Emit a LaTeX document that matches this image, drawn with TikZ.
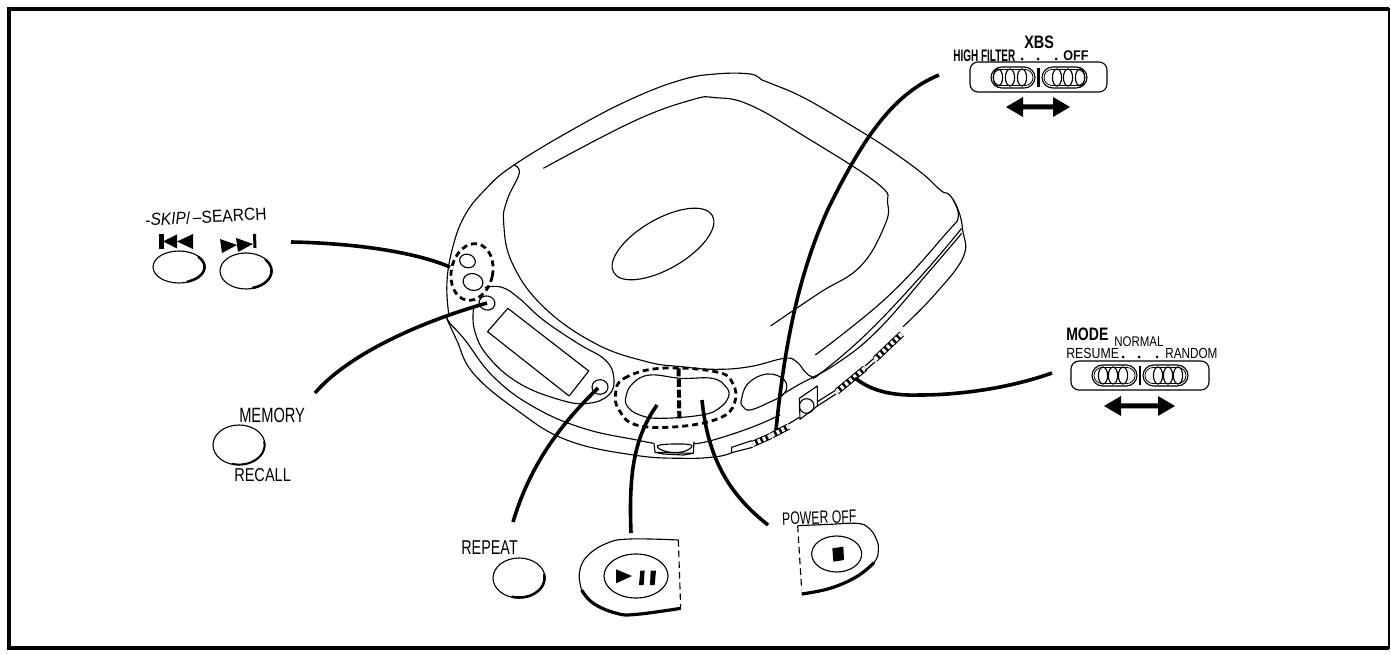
\documentclass[tikz,border=0pt]{standalone}
\usepackage{fontspec}
\setmainfont{Liberation Sans}
\usetikzlibrary{shapes.geometric}
\newcommand\lab[3]{\scalebox{#2}[1]{\fontsize{#1}{#1}\selectfont #3}}
\newcommand\ethick[6]{\draw[line width=#6,line cap=round,domain=#4,variable=\t,samples=30,smooth] plot ({#1+#3*cos(\t)},{#2+#5*sin(\t)});}
\newcommand\dblarrow[3]{\fill (#1,#3) -- (#1+17,#3-10) -- (#1+17,#3-2.5) -- (#2-17,#3-2.5) -- (#2-17,#3-10) -- (#2,#3) -- (#2-17,#3+10) -- (#2-17,#3+2.5) -- (#1+17,#3+2.5) -- (#1+17,#3+10) -- cycle;}
\newcommand\ovals[4]{\foreach \ex in {#1,#2,#3}{\draw[thin2] (\ex,#4) ellipse [x radius=4.6,y radius=8.5];}}
\newcommand\band[4]{%
  \draw[line width=4.8pt,line cap=butt] (#1,#2) -- (#3,#4);
  \draw[line width=3.2pt,white,dash pattern=on 2.2pt off 2pt] (#1,#2) -- (#3,#4);}
\tikzset{
  thin2/.style={line width=0.85pt},
  hair/.style={line width=0.6pt},
  leader/.style={line width=2.7pt,line cap=butt},
  dashring/.style={line width=2.1pt,dash pattern=on 4.5pt off 3pt},
  btn/.style={draw,ellipse,inner sep=0pt,line width=0.85pt},
  dot/.style={draw,ellipse,inner sep=0pt,line width=0.85pt},
  lbl/.style={inner sep=0pt,anchor=west},
  smoothp/.style={smooth,tension=0.7}
}
\begin{document}
\begin{tikzpicture}[x=0.75pt,y=-0.75pt,line join=round]
\useasboundingbox (0,0) rectangle (1391,655);
\fill[white] (0,0) rectangle (1391,655);
% frame
\draw[line width=3pt] (7,9) -- (1389,9);
\draw[line width=3.4pt] (9,8) -- (9,648);
\draw[line width=3pt] (7,648) -- (1389,648);
\draw[line width=1.6pt] (1389,8) -- (1389,649);

% ---- player body, coordinates of a 2.904x/3y view
\begin{scope}[shift={(440,50)},x=0.25826pt,y=-0.25pt]
 \draw[thin2] plot[smoothp] coordinates {(25,790)(20,700)(35,600)(70,500)(130,420)(215,345)(400,230)(560,145)(700,90)(800,72)(900,72)(935,90)(960,100)(1060,145)(1200,230)(1300,295)(1400,370)(1455,422)(1480,435)(1505,480)(1518,540)(1520,620)(1440,730)(1345,830)};
 % disc lid / top face
 \draw[thin2] plot[smoothp] coordinates {(215,345)(230,370)(195,450)(185,520)(210,640)(300,770)(450,880)(600,935)(700,950)(800,958)(900,950)(1000,925)(1035,935)(1060,965)(1080,980)(1105,970)(1240,850)(1400,675)(1515,535)};
 \draw[thin2] plot[smoothp] coordinates {(1490,450)(1505,500)(1470,550)(1300,740)(1090,915)};
 \draw[thin2] plot[smoothp] coordinates {(1515,550)(1420,665)(1272,840)(1153,940)(1040,1005)(985,1040)};
 % door
 \draw[thin2] plot[smoothp] coordinates {(300,355)(560,215)(730,150)(800,143)(900,165)(1060,260)(1270,400)(1300,460)(1290,530)(1220,650)(1100,730)(960,828)};
 % display band
 \draw[thin2] plot[smoothp] coordinates {(130,712)(180,712)(230,745)(300,810)(400,880)(480,930)(505,985)(490,1035)(430,1060)(350,1050)(230,1000)(140,920)(100,840)(98,770)};
 \draw[thin2] (197,775) -- (432,963) -- (375,1038) -- (138,845) -- cycle;
 % play/stop pill
 \draw[thin2] plot[smooth cycle,tension=0.7] coordinates {(540,1040)(560,1000)(610,975)(700,985)(790,985)(830,1010)(838,1040)(810,1075)(760,1095)(640,1105)(580,1095)(545,1070)};
 \draw[dashring] plot[smooth cycle,tension=0.7] coordinates {(510,1030)(535,985)(640,955)(800,965)(850,1000)(855,1060)(810,1105)(690,1130)(570,1125)(520,1080)};
 \draw[line width=3pt,dash pattern=on 6pt off 2pt] (693,955) -- (695,1105);
 % right oval
 \draw[thin2] plot[smooth cycle,tension=0.7] coordinates {(875,1050)(895,1000)(950,972)(1000,990)(1000,1030)(950,1060)(900,1080)(880,1070)};
\end{scope}
\node[dot,minimum width=85.5pt,minimum height=37.5pt,rotate=30] (hole) at (663,244) {};

% lower shell, zoom view coordinates
\begin{scope}[shift={(450,340)},x=0.25pt,y=-0.25pt]
 \draw[thin2] plot[smoothp] coordinates {(-10,-65)(20,0)(70,100)(200,210)(350,300)(550,345)(700,355)(800,350)(845,338)};
 \draw[thin2] plot[smoothp] coordinates {(-10,-70)(0,-50)(45,0)(130,110)(250,200)(400,265)(560,300)(612,310)};
 \draw[thin2] plot[smoothp] coordinates {(730,312)(790,300)(905,262)(990,225)};
 % wheel notch
 \draw[thin2] (612,310) -- (615,337) -- (730,340) -- (732,305);
 \draw[thin2] (615,337) -- (640,342) -- (700,345) -- (730,340);
 \draw[thin2] plot[smooth cycle,tension=0.7] coordinates {(622,318)(670,312)(725,316)(700,335)(650,335)};
 % XBS slide
 \draw[thin2] (845,338) -- (845,322) -- (905,302);
 \draw[thin2] (845,338) -- (908,322);
 \band{908}{312}{962}{288}
 \band{965}{286}{1015}{260}
\end{scope}

% side details, in px of the side view
\begin{scope}[shift={(760,330)},x=0.25pt,y=-0.25pt]
 \draw[thin2] (85,282) -- (118,262);
 \draw[thin2] (118,205) -- (172,168) -- (172,228) -- (120,268) -- cycle;
 \node[dot,minimum width=11pt,minimum height=11pt] (jack) at (140,228) {};
 \draw[thin2] (172,215) -- (228,180) (172,228) -- (228,192);
 \band{230}{185}{315}{115}
 \draw[thin2] (315,108) -- (345,82) (315,122) -- (345,96);
 \band{345}{88}{425}{12}
\end{scope}

% buttons on the player
\node[dashring,draw,ellipse,inner sep=0pt,minimum width=31pt,minimum height=43pt,rotate=-12] (skiprg) at (472,272) {};
\node[dot,minimum width=12pt,minimum height=10pt,rotate=-20] (skipa) at (467.5,261) {};
\node[dot,minimum width=15pt,minimum height=12.5pt,rotate=-15] (skipb) at (473,282) {};
\node[dot,minimum width=12pt,minimum height=10.5pt,rotate=-15] (memdot) at (487,303) {};
\node[dot,minimum width=12pt,minimum height=11pt] (repdot) at (600,387) {};

% remote-style button drawings
\node[btn,minimum width=39pt,minimum height=24pt] (bskipl) at (179,267) {};
\ethick{179}{267}{25.5}{-40:70}{15.5}{1.9pt}
\node[btn,minimum width=39pt,minimum height=27pt] (bskipr) at (246,271) {};
\ethick{246}{271}{25.5}{-40:75}{17.5}{1.9pt}
\node[btn,minimum width=39pt,minimum height=30pt] (bmem) at (239,445) {};
\ethick{239}{445}{25.5}{-10:105}{19.5}{1.4pt}
\node[btn,minimum width=39pt,minimum height=30pt] (brep) at (519,578) {};
\ethick{519}{578}{25.5}{-10:105}{19.5}{1.9pt}

% skip icons
\fill (159,234) rectangle (163.5,249);
\fill (163,241.5) -- (177,234.5) -- (177,248.5) -- cycle;
\fill (177,241.5) -- (193,234) -- (193,249) -- cycle;
\fill (220,239) -- (237,245) -- (222,253) -- cycle;
\fill (236,238) -- (253,244) -- (238,252) -- cycle;
\fill (253,234) -- (256,234) -- (256.5,248) -- (253.5,248) -- cycle;

% play and stop shapes
\begin{scope}[shift={(450,340)},x=0.25pt,y=-0.25pt]
 \draw[thin2] plot[smoothp] coordinates {(685,600)(540,597)(470,610)(410,650)(388,700)(395,750)};
 \draw[line width=2.4pt] plot[smoothp] coordinates {(395,750)(430,790)(500,820)(560,823)(692,805)};
 \draw[thin2,dash pattern=on 5pt off 3pt] (685,600) -- (692,805);
 \node[btn,minimum width=48pt,minimum height=33pt] (bplay) at (558,708) {};
 \fill (498,688) -- (546,708) -- (498,730) -- cycle;
 \fill (571,692) -- (584,692) -- (581,735) -- (567,735) -- cycle;
 \fill (602,692) -- (618,692) -- (614,735) -- (600,735) -- cycle;
\end{scope}
\begin{scope}[shift={(770,495)},x=0.25pt,y=-0.25pt]
 \draw[thin2] plot[smoothp] coordinates {(83,92)(180,88)(260,85)(295,98)(318,130)(325,165)(312,203)(260,245)};
 \draw[line width=2.4pt] plot[smoothp] coordinates {(312,203)(260,245)(180,280)(95,297)};
 \draw[thin2,dash pattern=on 5pt off 3pt] (83,92) -- (95,285);
 \node[btn,minimum width=37.5pt,minimum height=27pt] (bstop) at (200,177) {};
 \fill (187,160) -- (220,155) -- (222,195) -- (190,200) -- cycle;
\end{scope}

% leaders
\coordinate (skipfree) at (291,242);
\coordinate (memfree) at (315,393);
\coordinate (repfree) at (513,522);
\coordinate (playfree) at (631,533);
\coordinate (stopfree) at (768,525);
\coordinate (xbsfree) at (939,75);
\coordinate (modefree) at (1052,373);
\coordinate (skipend) at (450,267);
\coordinate (memend) at (487,303);
\coordinate (repend) at (598,388);
\coordinate (playend) at (657,405);
\coordinate (stopend) at (702,400);
\coordinate (xbsend) at (776,430);
\coordinate (modeend) at (855,378);
\draw[leader] (skipfree) .. controls (345,243) and (410,250) .. (skipend);
\draw[leader] (memfree) .. controls (345,358) and (410,325) .. (memend);
\draw[leader] (repfree) .. controls (530,465) and (560,425) .. (repend);
\draw[leader] (playfree) .. controls (629,480) and (632,440) .. (playend);
\draw[leader] (stopfree) .. controls (730,495) and (708,460) .. (stopend);
\draw[leader] (xbsfree) .. controls (890,95) and (860,145) .. (829,207) .. controls (800,270) and (785,340) .. (xbsend);
\draw[leader] (modefree) .. controls (1010,388) and (960,395) .. (920,395) .. controls (890,396) and (870,390) .. (modeend);

% XBS switch
\draw[thin2,rounded corners=6pt] (970,62) rectangle (1107,92);
\draw[thin2,rounded corners=8pt] (991,67) rectangle (1035,88);
\draw[thin2,rounded corners=8pt] (1042,67) rectangle (1087,88);
\draw[hair,rounded corners=6pt] (993,69.5) rectangle (1033,85.5);
\draw[hair,rounded corners=6pt] (1044,69.5) rectangle (1085,85.5);
\ovals{998}{1010}{1022}{77.5}
\ovals{1057}{1068}{1080}{77.5}
\draw[line width=2pt] (1038.5,68) -- (1038.5,87);
\foreach \dx in {1022,1038,1056}{\fill (\dx,59) circle (1.5);}
\dblarrow{1006}{1070}{107}

% MODE switch
\draw[thin2,rounded corners=6pt] (1071,361) rectangle (1209,390);
\draw[thin2,rounded corners=8pt] (1092,365) rectangle (1137,386);
\draw[thin2,rounded corners=8pt] (1143,365) rectangle (1188,386);
\draw[hair,rounded corners=6pt] (1094,367.5) rectangle (1135,383.5);
\draw[hair,rounded corners=6pt] (1145,367.5) rectangle (1186,383.5);
\ovals{1103}{1113}{1123}{375.5}
\ovals{1158}{1168}{1178}{375.5}
\draw[line width=2pt] (1140,366) -- (1140,385);
\foreach \dx in {1123,1139,1157}{\fill (\dx,357) circle (1.5);}
\dblarrow{1104}{1175}{406}

% labels
\node[lbl,rotate=3] (tskip) at (145,220) {\lab{13}{0.9}{-\textit{SKIP}/\,–SEARCH}};
\node[lbl] (tmem) at (239,415) {\lab{15.5}{0.71}{MEMORY}};
\node[lbl] (trec) at (234,475.5) {\lab{14}{0.78}{RECALL}};
\node[lbl] (trep) at (461,548) {\lab{15}{0.72}{REPEAT}};
\node[lbl,rotate=2] (tpow) at (782,519) {\lab{13.5}{0.68}{POWER OFF}};
\node[lbl] (txbs) at (1024,42) {\lab{13.5}{0.8}{\textbf{XBS}}};
\node[lbl] (thf) at (953,56) {\lab{12.5}{0.6}{\textbf{HIGH FILTER}}};
\node[lbl] (toff) at (1063,55.5) {\lab{10.5}{0.9}{\textbf{OFF}}};
\node[lbl] (tmode) at (1066,334) {\lab{13.5}{0.78}{\textbf{MODE}}};
\node[lbl] (tnorm) at (1114,341.5) {\lab{10.5}{0.82}{NORMAL}};
\node[lbl] (tres) at (1066,353.5) {\lab{11}{0.84}{RESUME}};
\node[lbl] (tran) at (1165,353.5) {\lab{11}{0.8}{RANDOM}};
\end{tikzpicture}
\end{document}
